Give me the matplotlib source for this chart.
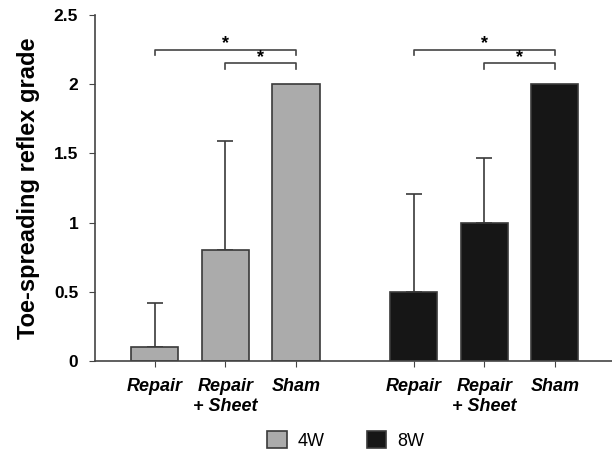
import numpy as np
import matplotlib.pyplot as plt

plt.rcParams['font.family'] = ['Liberation Sans', 'DejaVu Sans']

groups = ['4W', '8W']
labels = ['Repair', 'Repair\n+ Sheet', 'Sham']
means_4w = [0.1, 0.8, 2.0]
sd_4w = [0.32, 0.79, 0.0]
means_8w = [0.5, 1.0, 2.0]
sd_8w = [0.71, 0.47, 0.0]

colors = {'4W': '#ababab', '8W': '#161616'}
edge = '#3a3a3a'

x4 = np.array([0, 1, 2])
x8 = x4 + 3.67
width = 0.67

fig = plt.figure(figsize=(6.12, 4.66), dpi=100)
ax = fig.add_axes([0.155, 0.225, 0.845, 0.743])

for xs, m, s, g in [(x4, means_4w, sd_4w, '4W'), (x8, means_8w, sd_8w, '8W')]:
    ax.bar(xs, m, width, color=colors[g], edgecolor=edge, linewidth=1.2, label=g, zorder=2)
    for xi, mi, si in zip(xs, m, s):
        if si > 0:
            ax.errorbar(xi, mi, yerr=[[0], [si]], fmt='none', ecolor=edge,
                        elinewidth=1.2, capsize=6, capthick=1.2, zorder=1)

# significance brackets
def bracket(x1, x2, y, h=0.04):
    ax.plot([x1, x1, x2, x2], [y - h, y, y, y - h], color='#444444', lw=1.2, clip_on=False)
    ax.text((x1 + x2) / 2, y - 0.02, '*', ha='center', va='bottom', fontsize=13, fontweight='bold')

for xs in (x4, x8):
    bracket(xs[0], xs[2], 2.25)
    bracket(xs[1], xs[2], 2.15)

ax.set_xlim(-0.85, 6.48)
ax.set_ylim(0, 2.5)
ax.set_yticks([0, 0.5, 1, 1.5, 2, 2.5])
ax.set_yticklabels(['0', '0.5', '1', '1.5', '2', '2.5'], fontweight='bold', fontsize=12.5)
ax.set_xticks(np.concatenate([x4, x8]))
ax.set_xticklabels(labels * 2, fontweight='bold', fontstyle='italic', fontsize=13, linespacing=1.25)
ax.tick_params(axis='x', length=4, pad=8, color='#444444')
ax.tick_params(axis='y', length=4, pad=8, color='#444444')
ax.spines['top'].set_visible(False)
ax.spines['right'].set_visible(False)
for sp in ('left', 'bottom'):
    ax.spines[sp].set_color('#444444')
    ax.spines[sp].set_linewidth(1.2)

ax.set_ylabel('Toe-spreading reflex grade', fontsize=17, fontweight='bold', labelpad=10)

fig.legend(loc='lower center', bbox_to_anchor=(0.565, 0.0), ncol=2, frameon=False,
           fontsize=13, handlelength=1.1, handleheight=1.1, columnspacing=2.3, handletextpad=0.6)

fig.savefig('out.png', dpi=100)
